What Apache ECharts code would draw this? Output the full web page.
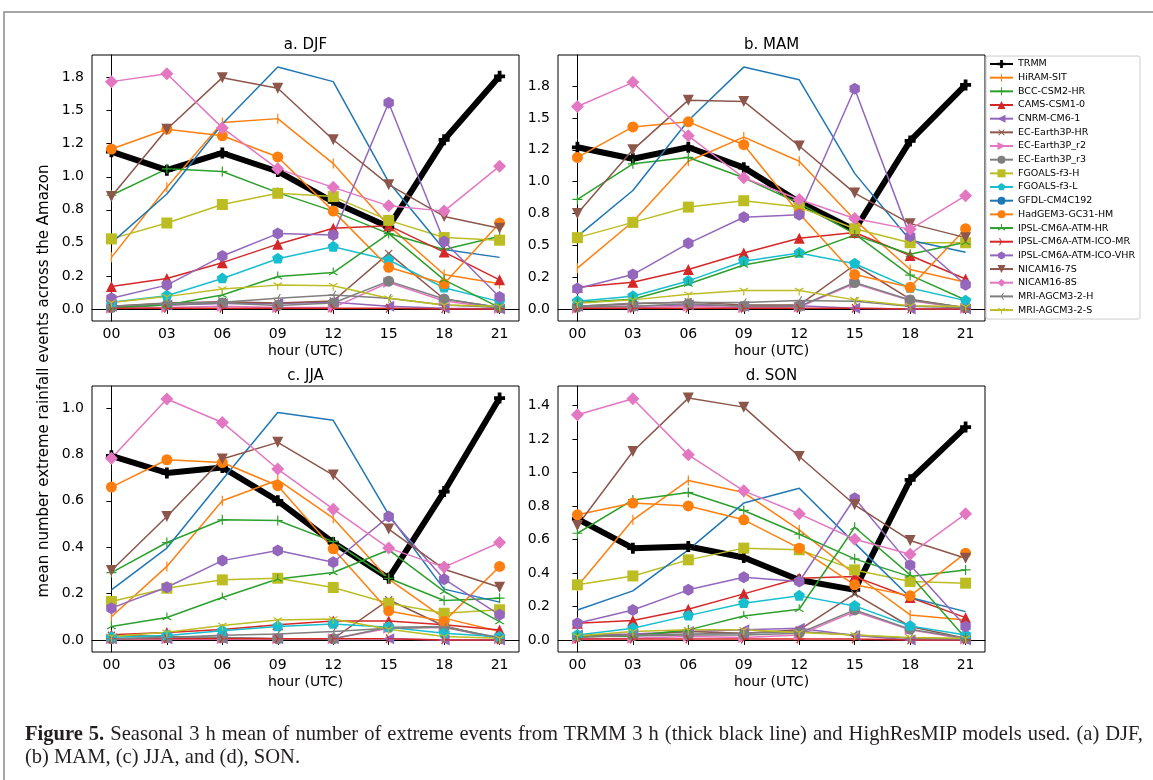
<!DOCTYPE html>
<html>
<head>
<meta charset="utf-8">
<script src="https://cdn.jsdelivr.net/npm/echarts@6/dist/echarts.min.js"></script>
<style>
  html, body { margin: 0; padding: 0; background: #fff; }
  #chart { position: absolute; left: 0; top: 0; width: 1153px; height: 780px; }
  #caption { position: absolute; left: 25px; top: 722px; width: 1118px;
    font-family: 'Liberation Serif', serif; font-size: 18px; line-height: 23px; color: #231f20; }
  #caption .l1 { text-align: justify; text-align-last: justify; white-space: nowrap; }
</style>
</head>
<body>
<div id="chart"></div>
<div id="caption">
  <div class="l1"><b>Figure 5.</b> Seasonal 3 h mean of number of extreme events from TRMM 3 h (thick black line) and HighResMIP models used. (a) DJF,</div>
  <div>(b) MAM, (c) JJA, and (d), SON.</div>
</div>
<script>
// hours of day on the x axis
const hours = [0, 3, 6, 9, 12, 15, 18, 21];
const hourLabels = ['00', '03', '06', '09', '12', '15', '18', '21'];

const models = ['TRMM', 'HiRAM-SIT', 'BCC-CSM2-HR', 'CAMS-CSM1-0', 'CNRM-CM6-1',
  'EC-Earth3P-HR', 'EC-Earth3P_r2', 'EC-Earth3P_r3', 'FGOALS-f3-H', 'FGOALS-f3-L',
  'GFDL-CM4C192', 'HadGEM3-GC31-HM', 'IPSL-CM6A-ATM-HR', 'IPSL-CM6A-ATM-ICO-MR',
  'IPSL-CM6A-ATM-ICO-VHR', 'NICAM16-7S', 'NICAM16-8S', 'MRI-AGCM3-2-H', 'MRI-AGCM3-2-S'];
const colors = ['#000000', '#ff7f0e', '#2ca02c', '#d62728', '#9467bd', '#8c564b', '#e377c2',
  '#7f7f7f', '#bcbd22', '#17becf', '#1f77b4', '#ff7f0e', '#2ca02c', '#d62728', '#9467bd',
  '#8c564b', '#e377c2', '#7f7f7f', '#bcbd22'];
// matplotlib marker codes
const markers = ['P', '|', '+', '^', '<', 'x', '>', 'o', 's', 'p', '', 'o', '2', '4', 'h', 'v', 'D', '3', '1'];

// one row per model, same order as models
const djf = [
  [1.19, 1.05, 1.18, 1.04, 0.81, 0.62, 1.28, 1.76],
  [0.39, 0.92, 1.41, 1.44, 1.10, 0.63, 0.26, 0.19],
  [0.86, 1.06, 1.04, 0.88, 0.74, 0.57, 0.45, 0.55],
  [0.17, 0.23, 0.35, 0.49, 0.61, 0.63, 0.43, 0.22],
  [0.02, 0.03, 0.04, 0.04, 0.05, 0.02, 0.005, 0.0],
  [0.02, 0.045, 0.055, 0.045, 0.06, 0.42, 0.075, 0.01],
  [0.005, 0.01, 0.02, 0.01, 0.01, 0.20, 0.06, 0.005],
  [0.01, 0.03, 0.045, 0.025, 0.045, 0.21, 0.075, 0.01],
  [0.53, 0.65, 0.79, 0.875, 0.85, 0.67, 0.54, 0.52],
  [0.05, 0.10, 0.23, 0.38, 0.47, 0.37, 0.16, 0.055],
  [0.50, 0.87, 1.40, 1.83, 1.72, 0.96, 0.45, 0.39],
  [1.21, 1.36, 1.31, 1.15, 0.74, 0.315, 0.19, 0.65],
  [0.01, 0.03, 0.105, 0.245, 0.275, 0.57, 0.22, 0.01],
  [0.005, 0.005, 0.005, 0.005, 0.005, 0.005, 0.0, 0.0],
  [0.08, 0.18, 0.40, 0.57, 0.56, 1.56, 0.51, 0.09],
  [0.85, 1.36, 1.75, 1.67, 1.28, 0.94, 0.70, 0.61],
  [1.72, 1.78, 1.37, 1.06, 0.92, 0.78, 0.74, 1.08],
  [0.02, 0.04, 0.05, 0.08, 0.105, 0.08, 0.03, 0.01],
  [0.048, 0.093, 0.15, 0.18, 0.175, 0.08, 0.03, 0.02]
];
const mam = [
  [1.27, 1.18, 1.27, 1.11, 0.84, 0.62, 1.32, 1.76],
  [0.32, 0.685, 1.16, 1.35, 1.16, 0.70, 0.31, 0.21],
  [0.86, 1.14, 1.19, 1.03, 0.83, 0.59, 0.265, 0.07],
  [0.17, 0.21, 0.31, 0.44, 0.555, 0.60, 0.42, 0.235],
  [0.02, 0.02, 0.03, 0.02, 0.025, 0.005, 0.0, 0.0],
  [0.02, 0.04, 0.055, 0.03, 0.03, 0.345, 0.076, 0.01],
  [0.005, 0.01, 0.02, 0.01, 0.015, 0.20, 0.065, 0.005],
  [0.015, 0.02, 0.04, 0.02, 0.02, 0.207, 0.07, 0.01],
  [0.56, 0.68, 0.80, 0.85, 0.80, 0.63, 0.52, 0.52],
  [0.06, 0.10, 0.22, 0.375, 0.44, 0.355, 0.165, 0.065],
  [0.57, 0.93, 1.48, 1.90, 1.80, 1.065, 0.54, 0.445],
  [1.19, 1.43, 1.47, 1.29, 0.75, 0.27, 0.17, 0.63],
  [0.05, 0.076, 0.196, 0.345, 0.424, 0.58, 0.43, 0.523],
  [0.005, 0.005, 0.005, 0.005, 0.005, 0.005, 0.0, 0.0],
  [0.16, 0.27, 0.515, 0.72, 0.74, 1.73, 0.57, 0.19],
  [0.75, 1.25, 1.64, 1.63, 1.28, 0.91, 0.67, 0.56],
  [1.59, 1.78, 1.36, 1.03, 0.86, 0.71, 0.625, 0.89],
  [0.02, 0.045, 0.05, 0.05, 0.066, 0.06, 0.02, 0.01],
  [0.045, 0.071, 0.115, 0.144, 0.144, 0.071, 0.024, 0.018]
];
const jja = [
  [0.794, 0.72, 0.744, 0.60, 0.42, 0.266, 0.64, 1.043],
  [0.10, 0.317, 0.60, 0.69, 0.525, 0.262, 0.094, 0.036],
  [0.29, 0.42, 0.518, 0.515, 0.424, 0.266, 0.17, 0.18],
  [0.022, 0.032, 0.045, 0.065, 0.082, 0.082, 0.065, 0.043],
  [0.005, 0.005, 0.005, 0.005, 0.005, 0.005, 0.0, 0.0],
  [0.02, 0.015, 0.01, 0.005, 0.005, 0.173, 0.06, 0.005],
  [0.005, 0.005, 0.005, 0.005, 0.005, 0.05, 0.055, 0.005],
  [0.005, 0.01, 0.01, 0.005, 0.005, 0.055, 0.058, 0.005],
  [0.166, 0.223, 0.259, 0.266, 0.226, 0.158, 0.115, 0.13],
  [0.011, 0.019, 0.039, 0.058, 0.069, 0.055, 0.029, 0.014],
  [0.216, 0.396, 0.691, 0.981, 0.947, 0.54, 0.219, 0.163],
  [0.659, 0.777, 0.765, 0.665, 0.393, 0.125, 0.08, 0.317],
  [0.058, 0.097, 0.183, 0.263, 0.291, 0.388, 0.209, 0.079],
  [0.005, 0.005, 0.005, 0.005, 0.005, 0.005, 0.0, 0.0],
  [0.137, 0.227, 0.342, 0.386, 0.335, 0.532, 0.262, 0.108],
  [0.299, 0.532, 0.78, 0.852, 0.711, 0.478, 0.305, 0.227],
  [0.784, 1.039, 0.938, 0.737, 0.564, 0.396, 0.314, 0.42],
  [0.005, 0.01, 0.02, 0.025, 0.036, 0.05, 0.055, 0.01],
  [0.015, 0.033, 0.062, 0.086, 0.09, 0.046, 0.015, 0.007]
];
const son = [
  [0.723, 0.548, 0.558, 0.492, 0.358, 0.299, 0.956, 1.271],
  [0.32, 0.717, 0.952, 0.88, 0.657, 0.392, 0.149, 0.119],
  [0.637, 0.836, 0.88, 0.773, 0.631, 0.484, 0.378, 0.418],
  [0.10, 0.116, 0.183, 0.275, 0.368, 0.378, 0.253, 0.133],
  [0.03, 0.035, 0.05, 0.06, 0.07, 0.026, 0.0, 0.0],
  [0.02, 0.03, 0.05, 0.04, 0.06, 0.275, 0.08, 0.01],
  [0.005, 0.01, 0.02, 0.015, 0.03, 0.17, 0.06, 0.005],
  [0.02, 0.024, 0.03, 0.03, 0.04, 0.179, 0.064, 0.01],
  [0.329, 0.382, 0.478, 0.548, 0.538, 0.418, 0.349, 0.339],
  [0.03, 0.07, 0.145, 0.219, 0.263, 0.203, 0.083, 0.03],
  [0.179, 0.293, 0.538, 0.817, 0.906, 0.578, 0.253, 0.169],
  [0.747, 0.817, 0.80, 0.717, 0.548, 0.329, 0.263, 0.518],
  [0.02, 0.024, 0.06, 0.143, 0.183, 0.673, 0.388, 0.01],
  [0.005, 0.005, 0.005, 0.005, 0.005, 0.005, 0.0, 0.0],
  [0.10, 0.179, 0.299, 0.374, 0.349, 0.846, 0.448, 0.08],
  [0.683, 1.125, 1.444, 1.39, 1.095, 0.807, 0.594, 0.488],
  [1.344, 1.44, 1.105, 0.89, 0.753, 0.601, 0.512, 0.753],
  [0.015, 0.03, 0.035, 0.04, 0.05, 0.03, 0.01, 0.005],
  [0.024, 0.05, 0.06, 0.06, 0.044, 0.03, 0.014, 0.01]
];

// y ticks (matplotlib rounds 0.25 steps to one decimal)
const ticksAB = [0, 0.25, 0.5, 0.75, 1.0, 1.25, 1.5, 1.75];
const tickLabelsAB = ['0.0', '0.2', '0.5', '0.8', '1.0', '1.2', '1.5', '1.8'];
const ticksC = [0, 0.2, 0.4, 0.6, 0.8, 1.0];
const tickLabelsC = ['0.0', '0.2', '0.4', '0.6', '0.8', '1.0'];
const ticksD = [0, 0.2, 0.4, 0.6, 0.8, 1.0, 1.2, 1.4];
const tickLabelsD = ['0.0', '0.2', '0.4', '0.6', '0.8', '1.0', '1.2', '1.4'];

const FONT = 'DejaVu Sans';

// caption: pick a font size so the first line fills the column
(function fitCaption() {
  const line = document.querySelector('#caption .l1');
  const ctx = document.createElement('canvas').getContext('2d');
  ctx.font = 'bold 20px "Liberation Serif"';
  let w = ctx.measureText('Figure 5. ').width;
  ctx.font = '20px "Liberation Serif"';
  w += ctx.measureText(line.textContent.replace('Figure 5.', '').trim()).width;
  const size = Math.min(21, 20 * 1100 / w);
  document.getElementById('caption').style.fontSize = size.toFixed(2) + 'px';
})();

// thin line markers as filled spokes; corner points keep the box centred
function spokes(angles) {
  const w = 0.12;
  let d = 'path://M-1,-1ZM1,1Z';
  angles.forEach(a => {
    const r = a * Math.PI / 180;
    const dx = Math.cos(r), dy = -Math.sin(r);
    const nx = -dy, ny = dx;
    const sx = -dx * w, sy = -dy * w;
    const p = [
      [sx + nx * w, sy + ny * w], [dx + nx * w, dy + ny * w],
      [dx - nx * w, dy - ny * w], [sx - nx * w, sy - ny * w]
    ].map(q => q[0].toFixed(3) + ',' + q[1].toFixed(3));
    d += 'M' + p[0] + 'L' + p[1] + 'L' + p[2] + 'L' + p[3] + 'Z';
  });
  return d;
}
function polygon(n, start) {
  let d = 'path://M-1,-1ZM1,1Z';
  for (let k = 0; k < n; k++) {
    const r = (start + k * 360 / n) * Math.PI / 180;
    d += (k ? 'L' : 'M') + Math.cos(r).toFixed(3) + ',' + (-Math.sin(r)).toFixed(3);
  }
  return d + 'Z';
}

function markerStyle(m) {
  switch (m) {
    case 'P': return { symbol: 'path://M-0.34,-1H0.34V-0.34H1V0.34H0.34V1H-0.34V0.34H-1V-0.34H-0.34Z', symbolSize: 11 };
    case '|': return { symbol: spokes([90, 270]), symbolSize: 10 };
    case '+': return { symbol: spokes([0, 90, 180, 270]), symbolSize: 10 };
    case 'x': return { symbol: spokes([45, 135, 225, 315]), symbolSize: 10 };
    case '1': return { symbol: spokes([270, 30, 150]), symbolSize: 10 };
    case '2': return { symbol: spokes([90, 210, 330]), symbolSize: 10 };
    case '3': return { symbol: spokes([180, 300, 60]), symbolSize: 10 };
    case '4': return { symbol: spokes([0, 120, 240]), symbolSize: 10 };
    case '^': return { symbol: 'triangle', symbolSize: 11 };
    case 'v': return { symbol: 'triangle', symbolSize: 11, symbolRotate: 180 };
    case '<': return { symbol: 'triangle', symbolSize: 11, symbolRotate: 90 };
    case '>': return { symbol: 'triangle', symbolSize: 11, symbolRotate: -90 };
    case 'o': return { symbol: 'circle', symbolSize: 11 };
    case 's': return { symbol: 'rect', symbolSize: 11 };
    case 'p': return { symbol: polygon(5, 90), symbolSize: 12 };
    case 'h': return { symbol: polygon(6, 90), symbolSize: 12 };
    case 'D': return { symbol: 'diamond', symbolSize: 13 };
    default: return { symbol: 'none', symbolSize: 0 };
  }
}

const panels = [
  { title: 'a. DJF', data: djf, ticks: ticksAB, labels: tickLabelsAB, left: 92, top: 55 },
  { title: 'b. MAM', data: mam, ticks: ticksAB, labels: tickLabelsAB, left: 558, top: 55 },
  { title: 'c. JJA', data: jja, ticks: ticksC, labels: tickLabelsC, left: 92, top: 386 },
  { title: 'd. SON', data: son, ticks: ticksD, labels: tickLabelsD, left: 558, top: 386 }
];
const PW = 427, PH = 266;

const grids = [], xAxes = [], yAxes = [], series = [];
const graphics = [
  { type: 'rect', shape: { x: 4, y: 12, width: 1200, height: 800 }, silent: true,
    style: { fill: 'none', stroke: '#8a8a8a', lineWidth: 1.5 } },
  { type: 'text', x: 44, y: 381, rotation: Math.PI / 2, silent: true,
    style: { text: 'mean number extreme rainfall events across the Amazon', font: '15px "DejaVu Sans"',
      fill: '#000', align: 'center', verticalAlign: 'middle' } }
];

panels.forEach((p, i) => {
  grids.push({ left: p.left, top: p.top, width: PW, height: PH, show: true,
    borderColor: '#000', borderWidth: 1, backgroundColor: 'transparent', outerBoundsMode: 'none' });
  graphics.push({ type: 'text', x: p.left + PW / 2, y: p.top - 10, silent: true,
    style: { text: p.title, font: '15px "DejaVu Sans"', fill: '#000', align: 'center', verticalAlign: 'middle' } });
  xAxes.push({
    type: 'value', gridIndex: i, min: -1.05, max: 22.05,
    name: 'hour (UTC)', nameLocation: 'middle', nameGap: 23,
    nameTextStyle: { fontFamily: FONT, fontSize: 14, color: '#000' },
    axisLine: { show: true, lineStyle: { color: '#000', width: 1 } },
    axisTick: { show: true, length: 5, lineStyle: { color: '#000' }, customValues: hours },
    axisLabel: { show: true, fontFamily: FONT, fontSize: 14, color: '#000', margin: 6, customValues: hours,
      formatter: v => hourLabels[hours.indexOf(v)] },
    splitLine: { show: false }
  });
  const top = Math.max(...p.data.flat());
  yAxes.push({
    type: 'value', gridIndex: i, min: -0.05 * top, max: top * 1.05,
    axisLine: { show: true, lineStyle: { color: '#000', width: 1 } },
    axisTick: { show: true, length: 5, lineStyle: { color: '#000' }, customValues: p.ticks },
    axisLabel: { show: true, fontFamily: FONT, fontSize: 14, color: '#000', margin: 8, customValues: p.ticks,
      formatter: v => p.labels[p.ticks.findIndex(t => Math.abs(t - v) < 1e-9)] },
    splitLine: { show: false }
  });
  p.data.forEach((vals, k) => {
    const m = markerStyle(markers[k]);
    series.push(Object.assign({
      type: 'line', name: models[k], xAxisIndex: i, yAxisIndex: i,
      data: hours.map((h, j) => [h, vals[j]]),
      showSymbol: m.symbol !== 'none',
      color: colors[k],
      lineStyle: { color: colors[k], width: k === 0 ? 6 : 1.5 },
      itemStyle: { color: colors[k], borderWidth: 0 },
      emphasis: { disabled: true },
      animation: false
    }, m));
  });
});

const chart = echarts.init(document.getElementById('chart'), null, { renderer: 'canvas' });
chart.setOption({
  backgroundColor: '#fff',
  animation: false,
  textStyle: { fontFamily: FONT },
  grid: grids,
  xAxis: xAxes,
  yAxis: yAxes,
  legend: {
    data: models, orient: 'vertical', left: 986, top: 56,
    padding: [3, 5, 4, 3], itemWidth: 23, itemHeight: 10, itemGap: 3.67,
    borderColor: '#cccccc', borderWidth: 1, borderRadius: 2, backgroundColor: '#fff',
    textStyle: { fontFamily: FONT, fontSize: 9.5, color: '#000', lineHeight: 10 },
    selectedMode: false
  },
  graphic: graphics,
  series: series
});
</script>
</body>
</html>
